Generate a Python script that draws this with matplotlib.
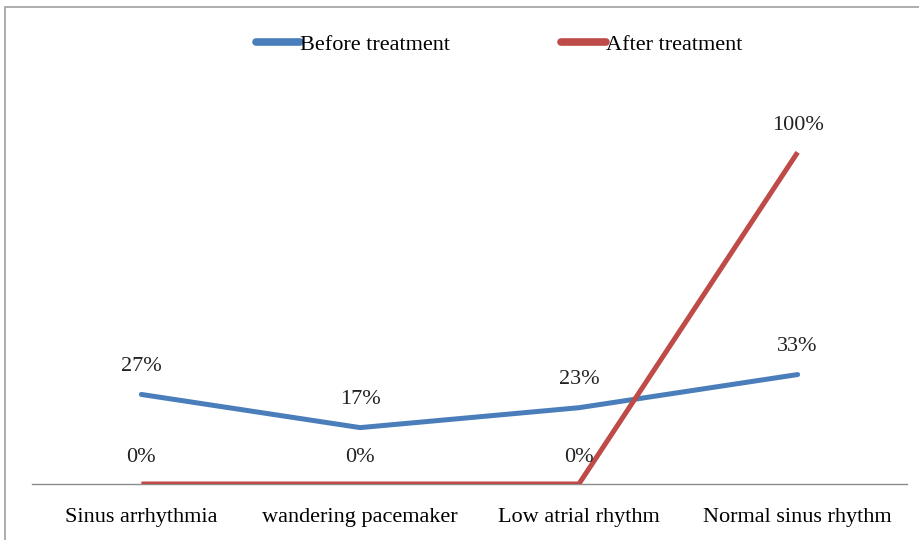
import matplotlib.pyplot as plt
from matplotlib.patches import Rectangle

# data
categories = ['Sinus arrhythmia', 'wandering pacemaker', 'Low atrial rhythm', 'Normal sinus rhythm']
before = [27, 17, 23, 33]
after = [0, 0, 0, 100]

plt.rcParams['font.family'] = ['Liberation Serif', 'DejaVu Serif']

W, H = 919, 540
fig = plt.figure(figsize=(W / 100, H / 100), dpi=100)
# axes placed in pixel terms: x 32..907, y 86..484
ax = fig.add_axes([32 / W, 1 - 484 / H, 875 / W, (484 - 86) / H])

x = range(len(categories))
ax.plot(x, before, color='#4A7EBB', lw=3.6, solid_capstyle='round',
        solid_joinstyle='round', label='Before treatment', zorder=3)
ax.plot(x, after, color='#BE4B48', lw=3.6, solid_capstyle='butt',
        solid_joinstyle='round', label='After treatment', zorder=3)

for i, v in enumerate(before):
    ax.annotate('{}%'.format(v), (i, v), xytext=(0, 20), textcoords='offset points',
                ha='center', va='center', fontsize=16, color='#222222')
for i, v in enumerate(after):
    ax.annotate('{}%'.format(v), (i, v), xytext=(0, 19), textcoords='offset points',
                ha='center', va='center', fontsize=16, color='#222222')

ax.set_xlim(-0.5, len(categories) - 0.5)
ax.set_ylim(0, 120)
ax.set_xticks(list(x))
ax.set_xticklabels(categories, fontsize=16)
ax.tick_params(axis='x', length=0, pad=17)
ax.set_yticks([])
for s in ['top', 'right', 'left']:
    ax.spines[s].set_visible(False)
ax.spines['bottom'].set_color('#8c8c8c')
ax.spines['bottom'].set_linewidth(1)

leg = ax.legend(loc='center', bbox_to_anchor=(499 / W, 1 - 45 / H),
                bbox_transform=fig.transFigure, ncol=2, frameon=False,
                fontsize=16, handlelength=2.0, handletextpad=0.0,
                columnspacing=5.0)
for h in leg.get_lines():
    h.set_linewidth(5.5)
    h.set_solid_capstyle('round')

# outer frame
fig.patches.append(Rectangle((5 / W, -0.05), 1.1, 1 - 7 / H + 0.05,
                             transform=fig.transFigure, fill=False,
                             edgecolor='#a0a0a0', lw=1.2))

fig.savefig('out.png', dpi=100)
